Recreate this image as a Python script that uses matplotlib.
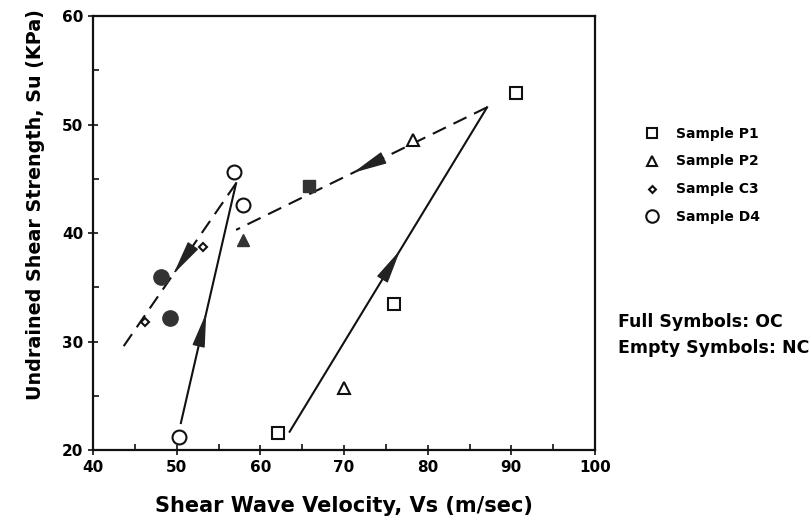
"""Undrained shear strength vs shear wave velocity for clay samples P1, P2, C3, D4."""

import matplotlib
matplotlib.use("Agg")
import matplotlib.pyplot as plt
from matplotlib.lines import Line2D

# open symbols: normally consolidated (NC)
p1_nc_vs = [62.1, 76.0, 90.6]
p1_nc_su = [21.6, 33.5, 52.9]
p2_nc_vs = [70.0, 78.3]
p2_nc_su = [25.7, 48.6]
c3_nc_vs = [53.1, 46.2]
c3_nc_su = [38.7, 31.8]
d4_nc_vs = [50.3, 56.9, 57.9]
d4_nc_su = [21.2, 45.6, 42.6]

# full symbols: overconsolidated (OC)
p1_oc_vs = [65.8]
p1_oc_su = [44.3]
p2_oc_vs = [57.9]
p2_oc_su = [39.4]
d4_oc_vs = [48.1, 49.2]
d4_oc_su = [36.0, 32.2]

# loading (solid) and unloading (dashed) paths: start, end, arrow position
load_paths = [
    ([50.5, 57.1], [22.5, 44.6], 0.46),
    ([63.5, 87.1], [21.7, 51.6], 0.56),
]
unload_paths = [
    ([87.1, 57.1], [51.6, 40.3], 0.535),
    ([57.1, 43.5], [44.6, 29.4], 0.55),
]

BOLD = dict(family="DejaVu Sans", fontweight="bold")
INK = "#111111"
FILL = "#333333"


def add_arrow(ax, xs, ys, frac):
    tx = xs[0] + frac * (xs[1] - xs[0])
    ty = ys[0] + frac * (ys[1] - ys[0])
    bx = xs[0] + (frac - 0.02) * (xs[1] - xs[0])
    by = ys[0] + (frac - 0.02) * (ys[1] - ys[0])
    ax.annotate("", xy=(tx, ty), xytext=(bx, by),
                arrowprops=dict(arrowstyle="-|>,head_length=1.8,head_width=0.33",
                                mutation_scale=12, color="#222222", lw=1,
                                shrinkA=0, shrinkB=0))


fig = plt.figure(figsize=(8.11, 5.21), dpi=100)
ax = fig.add_axes([0.1147, 0.136, 0.619, 0.833])

for xs, ys, f in load_paths:
    ax.plot(xs, ys, "-", color=INK, lw=1.5)
    add_arrow(ax, xs, ys, f)
for xs, ys, f in unload_paths:
    ax.plot(xs, ys, color=INK, lw=1.5, dashes=(7, 4))
    add_arrow(ax, xs, ys, f)

open_kw = dict(linestyle="none", markerfacecolor="white", markeredgecolor=INK,
               markeredgewidth=1.5, zorder=4)
ax.plot(p1_nc_vs, p1_nc_su, marker="s", markersize=8, **open_kw)
ax.plot(p2_nc_vs, p2_nc_su, marker="^", markersize=8, **open_kw)
ax.plot(c3_nc_vs, c3_nc_su, marker="D", markersize=4, **open_kw)
ax.plot(d4_nc_vs, d4_nc_su, marker="o", markersize=10, **open_kw)

full_kw = dict(linestyle="none", color=FILL, markeredgecolor=FILL, zorder=4)
ax.plot(p1_oc_vs, p1_oc_su, marker="s", markersize=9, **full_kw)
ax.plot(p2_oc_vs, p2_oc_su, marker="^", markersize=9, **full_kw)
ax.plot(d4_oc_vs, d4_oc_su, marker="o", markersize=11, **full_kw)

ax.set_xlim(40, 100)
ax.set_ylim(20, 60)
ax.set_xticks(range(40, 101, 10))
ax.set_yticks(range(20, 61, 10))
ax.set_xticks(range(45, 100, 10), minor=True)
ax.set_yticks(range(25, 60, 10), minor=True)
ax.tick_params(which="major", direction="inout", length=7, width=1.2,
               labelsize=11, color=INK)
ax.tick_params(which="minor", direction="in", length=4, width=1.2, color=INK)
for lab in ax.get_xticklabels() + ax.get_yticklabels():
    lab.set_fontweight("semibold")
for sp in ax.spines.values():
    sp.set_linewidth(1.6)
    sp.set_color(INK)

ax.set_xlabel("Shear Wave Velocity, Vs (m/sec)", fontsize=15, **BOLD)
ax.xaxis.set_label_coords(0.5, -0.105)
ax.set_ylabel("Undrained Shear Strength, Su (KPa)", fontsize=13.8, **BOLD)
ax.yaxis.set_label_coords(-0.095, 0.567)

handles = [
    Line2D([], [], marker="s", markersize=7, **open_kw),
    Line2D([], [], marker="^", markersize=7, **open_kw),
    Line2D([], [], marker="D", markersize=3.5, **open_kw),
    Line2D([], [], marker="o", markersize=9, **open_kw),
]
fig.legend(handles, ["Sample P1", "Sample P2", "Sample C3", "Sample D4"],
           loc="upper left", bbox_to_anchor=(0.772, 0.781), frameon=False,
           handletextpad=0.7, labelspacing=1.0,
           prop=dict(family="DejaVu Sans", weight="bold", size=10))

fig.text(0.762, 0.382, "Full Symbols: OC", fontsize=12.5, va="center", **BOLD)
fig.text(0.762, 0.332, "Empty Symbols: NC", fontsize=12.5, va="center", **BOLD)

fig.savefig("out.png", dpi=100)
